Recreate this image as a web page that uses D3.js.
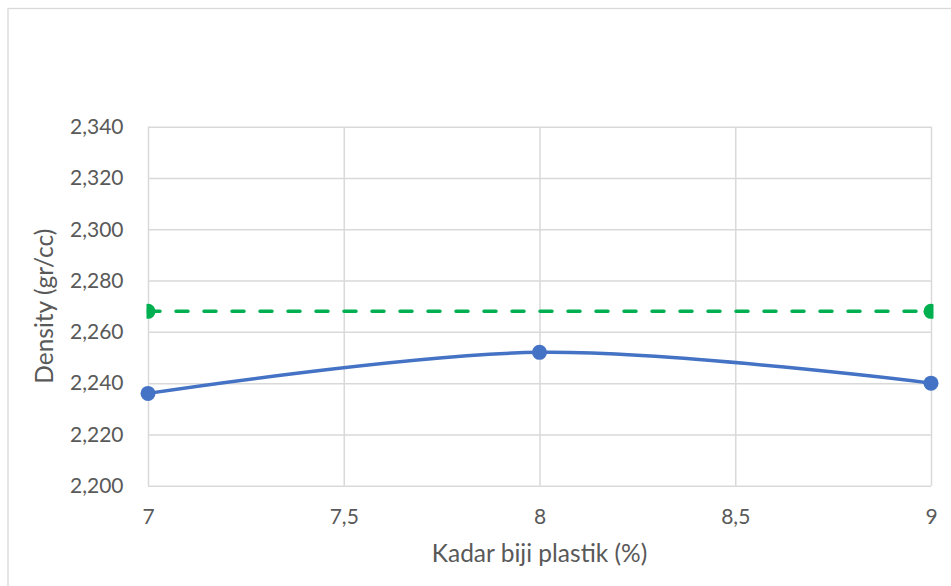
<!DOCTYPE html>
<html>
<head>
<meta charset="utf-8">
<script src="https://cdn.jsdelivr.net/npm/d3@7/dist/d3.min.js"></script>
<style>
  html, body { margin: 0; padding: 0; background: #ffffff; }
  svg { display: block; }
  text { font-family: Lato, "Open Sans", sans-serif; fill: #595959; }
</style>
</head>
<body>
<svg id="chart" width="951" height="586"></svg>
<script>
// Density versus plastic-pellet content
const kadar = [7, 8, 9];
const density = [2.236, 2.252, 2.240];
const batasKadar = [7, 9];
const batasDensity = [2.268, 2.268];
const xTicks = [7, 7.5, 8, 8.5, 9];
const yTicks = [2.200, 2.220, 2.240, 2.260, 2.280, 2.300, 2.320, 2.340];

const W = 951, H = 586;
const plot = { left: 148, right: 931, top: 126.7, bottom: 485.7 };

const svg = d3.select("#chart");

// chart frame
svg.append("rect")
  .attr("x", 8).attr("y", 8.5)
  .attr("width", W + 10).attr("height", H + 10)
  .attr("fill", "#ffffff")
  .attr("stroke", "#d9d9d9").attr("stroke-width", 1.3);

const x = d3.scaleLinear().domain([7, 9]).range([plot.left, plot.right]);
const y = d3.scaleLinear().domain([2.2, 2.34]).range([plot.bottom, plot.top]);

const fmtY = v => d3.format(".3f")(v).replace(".", ",");
const fmtX = v => String(v).replace(".", ",");

// horizontal gridlines and y labels
const yAxis = d3.axisLeft(y).tickValues(yTicks).tickFormat(fmtY)
  .tickSize(-(plot.right - plot.left)).tickPadding(24.5);
const gy = svg.append("g").attr("transform", `translate(${plot.left},0)`).call(yAxis);
gy.select(".domain").remove();
gy.selectAll(".tick line").attr("stroke", "#d9d9d9").attr("stroke-width", 1.5);
gy.selectAll(".tick text").attr("font-size", 21).attr("fill", "#595959")
  .attr("font-family", "Lato, 'Open Sans', sans-serif");

// vertical gridlines and x labels
const xAxis = d3.axisBottom(x).tickValues(xTicks).tickFormat(fmtX)
  .tickSize(-(plot.bottom - plot.top)).tickPadding(23);
const gx = svg.append("g").attr("transform", `translate(0,${plot.bottom})`).call(xAxis);
gx.select(".domain").remove();
gx.selectAll(".tick line").attr("stroke", "#d9d9d9").attr("stroke-width", 1.5);
gx.selectAll(".tick text").attr("font-size", 21).attr("fill", "#595959")
  .attr("font-family", "Lato, 'Open Sans', sans-serif");

// axis titles
svg.append("text")
  .attr("x", (plot.left + plot.right) / 2).attr("y", 562)
  .attr("text-anchor", "middle").attr("font-size", 24.5)
  .text("Kadar biji plastik (%)");
svg.append("text")
  .attr("transform", `translate(52.5,${(plot.top + plot.bottom) / 2}) rotate(-90)`)
  .attr("text-anchor", "middle").attr("font-size", 24.5)
  .text("Density (gr/cc)");

// reference limit: dashed, markers trimmed to the plot area
svg.append("clipPath").attr("id", "plotClip")
  .append("rect")
  .attr("x", x.range()[0] - 1.5).attr("y", y.range()[1] - 10)
  .attr("width", x.range()[1] - x.range()[0] + 4)
  .attr("height", y.range()[0] - y.range()[1] + 20);

const batas = batasKadar.map((k, i) => [k, batasDensity[i]]);
const gBatas = svg.append("g").attr("clip-path", "url(#plotClip)");
gBatas.append("path")
  .datum(batas)
  .attr("d", d3.line().x(d => x(d[0])).y(d => y(d[1])))
  .attr("fill", "none").attr("stroke", "#00b050").attr("stroke-width", 3.5)
  .attr("stroke-linecap", "round").attr("stroke-dasharray", "12 16");
gBatas.selectAll("circle").data(batas).join("circle")
  .attr("cx", d => x(d[0])).attr("cy", d => y(d[1])).attr("r", 7.5)
  .attr("fill", "#00b050");

// measured density, smoothed
const pts = kadar.map((k, i) => [k, density[i]]);
svg.append("path")
  .datum(pts)
  .attr("d", d3.line().x(d => x(d[0])).y(d => y(d[1])).curve(d3.curveCardinal.tension(0)))
  .attr("fill", "none").attr("stroke", "#4472c4").attr("stroke-width", 3.5)
  .attr("stroke-linecap", "round");
svg.selectAll("circle.pt").data(pts).join("circle")
  .attr("class", "pt")
  .attr("cx", d => x(d[0])).attr("cy", d => y(d[1])).attr("r", 7.5)
  .attr("fill", "#4472c4");
</script>
</body>
</html>
